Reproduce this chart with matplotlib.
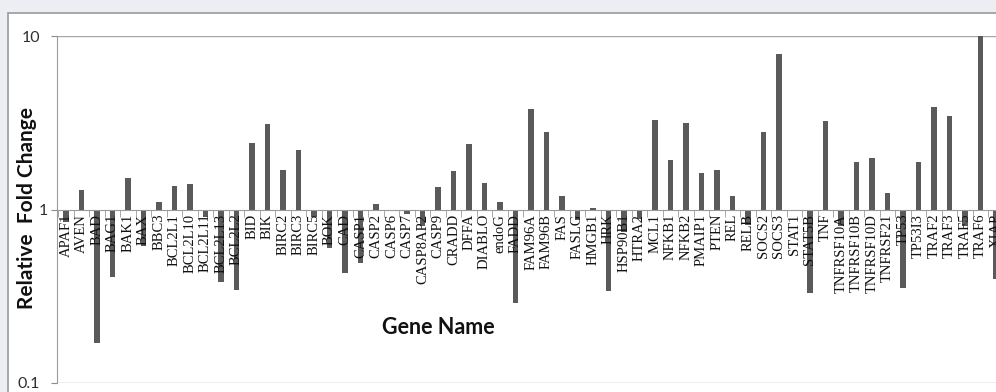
import matplotlib
matplotlib.use('Agg')
import matplotlib.pyplot as plt
import matplotlib.transforms as mtransforms
from matplotlib.patches import Rectangle
from matplotlib.ticker import FixedLocator, NullFormatter

genes = ["APAF1", "AVEN", "BAD", "BAG1", "BAK1", "BAX", "BBC3", "BCL2L1",
         "BCL2L10", "BCL2L11", "BCL2L13", "BCL2L2", "BID", "BIK", "BIRC2",
         "BIRC3", "BIRC5", "BOK", "CAD", "CASP1", "CASP2", "CASP6", "CASP7",
         "CASP8AP2", "CASP9", "CRADD", "DFFA", "DIABLO", "endoG", "FADD",
         "FAM96A", "FAM96B", "FAS", "FASLG", "HMGB1", "HRK", "HSP90B1",
         "HTRA2", "MCL1", "NFKB1", "NFKB2", "PMAIP1", "PTEN", "REL", "RELB",
         "SOCS2", "SOCS3", "STAT1", "STAT5B", "TNF", "TNFRSF10A",
         "TNFRSF10B", "TNFRSF10D", "TNFRSF21", "TP53", "TP53I3", "TRAF2",
         "TRAF3", "TRAF5", "TRAF6", "XIAP"]

fold_change = [0.85, 1.29, 0.17, 0.41, 1.51, 0.62, 1.11, 1.37,
               1.41, 0.90, 0.38, 0.345, 2.43, 3.09, 1.70,
               2.19, 0.91, 0.60, 0.43, 0.49, 1.07, 0.99, 0.94,
               0.80, 1.34, 1.66, 2.37, 1.43, 1.10, 0.29,
               3.82, 2.78, 1.19, 0.87, 1.02, 0.34, 0.74,
               0.88, 3.30, 1.94, 3.17, 1.63, 1.70, 1.19, 0.81,
               2.78, 7.90, 1.00, 0.33, 3.22, 0.80,
               1.89, 1.97, 1.24, 0.355, 1.87, 3.92,
               3.44, 0.80, 10.0, 0.40]

W, H = 996, 392
fig = plt.figure(figsize=(W / 100, H / 100), dpi=100)
fig.patch.set_facecolor('#eceef4')

# white chart area with a thin grey border, kept behind the axes
fig.patches.append(Rectangle((8 / W, -0.2), 1.2, 1.2 - 13 / H,
                             transform=fig.transFigure, facecolor='white',
                             edgecolor='#9a9a9a', linewidth=1.2, zorder=-10))

ax = fig.add_axes([57 / W, (H - 383) / H, (W - 57) / W, (383 - 36) / H])
ax.set_facecolor('none')

x = list(range(len(genes)))
heights = [v - 1 for v in fold_change]
ax.bar(x, heights, bottom=1, width=0.38, color='#5a5a5a', zorder=1)

ax.set_yscale('log')
ax.set_ylim(0.1, 10)
ax.set_xlim(-0.58, 60.0)

# horizontal gridlines at 0.1 and 10
for g in [0.1, 10]:
    ax.axhline(g, color='#a6a6a6', linewidth=1.0, zorder=0)

ax.set_yticks([0.1, 1, 10])
ax.set_yticklabels(['0.1', '1', '10'])
ax.yaxis.set_minor_locator(FixedLocator([]))
ax.yaxis.set_minor_formatter(NullFormatter())
ax.tick_params(axis='y', which='major', direction='out', length=4,
               color='#8c8c8c', pad=8, labelsize=11.5, labelcolor='#303030')
for lbl in ax.get_yticklabels():
    lbl.set_family('Lato')
    if lbl.get_text() == '1':
        # nudge the "1" towards the axis so it clears the axis title
        lbl.set_transform(lbl.get_transform() +
                          mtransforms.ScaledTranslation(8 / 100, 0, fig.dpi_scale_trans))

# category axis crosses at 1
ax.spines['bottom'].set_position(('data', 1))
ax.spines['bottom'].set_color('#9a9a9a')
ax.spines['left'].set_color('#9a9a9a')
ax.spines['top'].set_visible(False)
ax.spines['right'].set_visible(False)

ax.set_xticks(x)
ax.set_xticklabels(genes, rotation=90, family='Liberation Serif',
                   fontsize=10.5, color='#111111')
ax.xaxis.set_minor_locator(FixedLocator([i + 0.5 for i in range(-1, len(genes))]))
ax.tick_params(axis='x', which='major', length=0, pad=3)
ax.tick_params(axis='x', which='minor', direction='out', length=5,
               color='#9a9a9a')

fig.text(27 / W, 1 - 208 / H, 'Relative  Fold Change', rotation=90,
         ha='center', va='center', family='Lato', fontweight='bold',
         fontsize=15, color='#111111')
fig.text(438 / W, 1 - 327 / H, 'Gene Name', ha='center', va='center',
         family='Lato', fontweight='bold', fontsize=15.5, color='#111111')

fig.savefig('out.png', dpi=100, facecolor=fig.get_facecolor())
